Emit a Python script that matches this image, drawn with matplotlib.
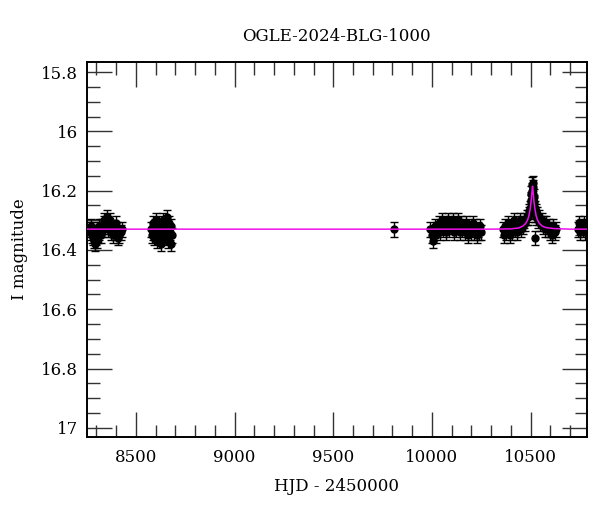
import matplotlib
matplotlib.use("Agg")
import matplotlib.pyplot as plt
import numpy as np
from matplotlib.ticker import MultipleLocator

plt.rcParams['font.family'] = ['DejaVu Serif']

title = "OGLE-2024-BLG-1000"

# season 2018
hjd_2018 = [8266, 8270, 8273, 8276, 8279, 8282, 8285, 8288, 8291, 8294, 8297, 8300,
            8303, 8306, 8309, 8312, 8315, 8318, 8322, 8326, 8331, 8336, 8340, 8344,
            8348, 8352, 8356, 8360, 8364, 8368, 8374, 8380, 8386, 8392, 8398, 8404,
            8410, 8416, 8422, 8428]
mag_2018 = [16.33, 16.34, 16.32, 16.35, 16.33, 16.36, 16.34, 16.37, 16.35, 16.38, 16.36, 16.34,
            16.37, 16.33, 16.35, 16.32, 16.34, 16.33, 16.35, 16.32, 16.33, 16.31, 16.30, 16.32,
            16.31, 16.29, 16.31, 16.33, 16.32, 16.30, 16.34, 16.33, 16.35, 16.34, 16.31, 16.33,
            16.36, 16.35, 16.34, 16.33]

# season 2019
hjd_2019 = [8576, 8580, 8584, 8588, 8592, 8596, 8600, 8604, 8608, 8612, 8616, 8620,
            8624, 8628, 8632, 8636, 8640, 8644, 8648, 8652, 8656, 8660, 8664, 8668,
            8672, 8676, 8680, 8684]
mag_2019 = [16.33, 16.35, 16.31, 16.34, 16.36, 16.32, 16.30, 16.34, 16.37, 16.33, 16.31, 16.35,
            16.32, 16.38, 16.34, 16.30, 16.33, 16.36, 16.32, 16.35, 16.29, 16.33, 16.37, 16.31,
            16.34, 16.38, 16.32, 16.35]

# single point 2022
hjd_2022 = [9810]
mag_2022 = [16.33]

# season 2023
hjd_2023 = [9992, 9998, 10004, 10010, 10016, 10022, 10028, 10034, 10040, 10046, 10052,
            10058, 10064, 10070, 10076, 10082, 10088, 10094, 10100, 10106, 10112, 10118,
            10124, 10130, 10136, 10142, 10148, 10154, 10160, 10166, 10172, 10178, 10184,
            10190, 10196, 10202, 10208, 10214, 10220, 10226, 10232, 10238, 10244, 10250]
mag_2023 = [16.33, 16.35, 16.37, 16.34, 16.32, 16.35, 16.33, 16.31, 16.34, 16.32, 16.30,
            16.33, 16.31, 16.34, 16.32, 16.30, 16.33, 16.31, 16.32, 16.30, 16.34, 16.31,
            16.33, 16.30, 16.32, 16.34, 16.31, 16.33, 16.32, 16.34, 16.31, 16.33, 16.35,
            16.32, 16.34, 16.33, 16.31, 16.34, 16.32, 16.35, 16.33, 16.34, 16.32, 16.34]

# season 2024 (event)
hjd_2024 = [10360, 10366, 10372, 10378, 10384, 10390, 10396, 10402, 10408, 10414, 10420,
            10426, 10432, 10438, 10444, 10450, 10456, 10462, 10468, 10474, 10480, 10485,
            10490, 10494, 10497, 10500, 10502, 10504, 10506, 10508, 10510, 10512, 10514,
            10516, 10518, 10520, 10522, 10524, 10526, 10530, 10534, 10538, 10544, 10550,
            10556, 10562, 10568, 10574, 10580, 10586, 10592, 10598, 10604, 10610, 10616,
            10622, 10628]
mag_2024 = [16.33, 16.35, 16.32, 16.34, 16.31, 16.33, 16.35, 16.32, 16.34, 16.30, 16.33,
            16.31, 16.34, 16.32, 16.30, 16.33, 16.31, 16.32, 16.30, 16.31, 16.29, 16.29,
            16.28, 16.27, 16.26, 16.24, 16.23, 16.21, 16.20, 16.18, 16.175, 16.19, 16.21,
            16.24, 16.22, 16.26, 16.28, 16.36, 16.27, 16.29, 16.28, 16.30, 16.29, 16.31,
            16.30, 16.32, 16.31, 16.33, 16.31, 16.33, 16.32, 16.34, 16.33, 16.35, 16.32,
            16.34, 16.33]

# season 2025
hjd_2025 = [10740, 10746, 10752, 10758, 10764, 10770, 10776, 10782]
mag_2025 = [16.33, 16.31, 16.34, 16.32, 16.33, 16.31, 16.34, 16.32]

mag_err = 0.025

# model curve (sampled)
model_hjd = [8200, 10300, 10400, 10440, 10460, 10475, 10485, 10492, 10498, 10503,
             10507, 10510, 10513, 10517, 10522, 10528, 10535, 10545, 10560, 10580,
             10620, 10700, 10850]
model_mag = [16.330, 16.330, 16.329, 16.326, 16.320, 16.311, 16.299, 16.284, 16.262, 16.235,
             16.205, 16.185, 16.205, 16.235, 16.262, 16.284, 16.299, 16.311, 16.320, 16.325,
             16.328, 16.330, 16.330]

hjd = np.concatenate([hjd_2018, hjd_2019, hjd_2022, hjd_2023, hjd_2024, hjd_2025])
mag = np.concatenate([mag_2018, mag_2019, mag_2022, mag_2023, mag_2024, mag_2025])

fig = plt.figure(figsize=(6, 5.12), dpi=100)
ax = fig.add_axes([0.145, 0.1465, 0.833, 0.7325])

ax.errorbar(hjd, mag, yerr=mag_err, fmt='o', color='black', ms=5,
            elinewidth=1, capsize=3, capthick=1, zorder=2)
ax.plot(model_hjd, model_mag, color='#ee11ee', lw=1.1, zorder=3)

ax.set_xlim(8252, 10785)
ax.set_ylim(17.031, 15.766)

ax.xaxis.set_major_locator(MultipleLocator(500))
ax.xaxis.set_minor_locator(MultipleLocator(100))
ax.yaxis.set_major_locator(MultipleLocator(0.2))
ax.yaxis.set_minor_locator(MultipleLocator(0.05))
ax.yaxis.set_major_formatter(plt.FuncFormatter(lambda v, p: f"{v:g}"))

ax.tick_params(which='both', direction='in', top=True, right=True, width=1,
               color='#333333', labelsize=12)
ax.tick_params(which='major', length=18)
ax.tick_params(which='minor', length=9)
ax.tick_params(axis='y', which='major', pad=6.5)
ax.tick_params(axis='x', which='major', pad=9)
for s in ax.spines.values():
    s.set_linewidth(1.4)

ax.set_xlabel("HJD - 2450000", fontsize=12, labelpad=8)
ax.set_ylabel("I magnitude", fontsize=12, labelpad=9)
ax.set_title(title, fontsize=12, pad=15)

fig.savefig("out.png", dpi=100)
